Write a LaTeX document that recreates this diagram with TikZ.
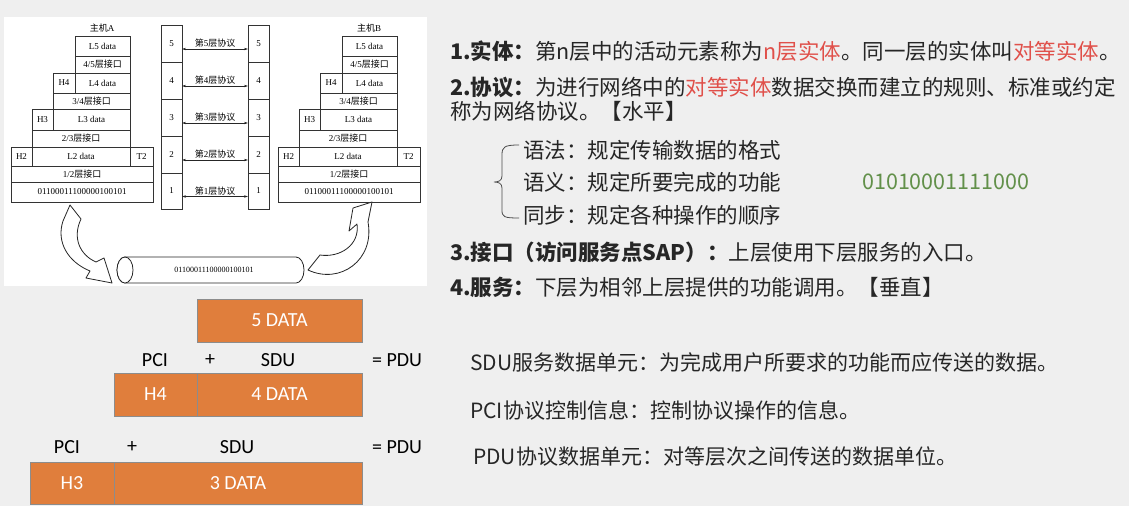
\documentclass[tikz,border=0pt]{standalone}
\usepackage{fontspec}
\setmainfont{Liberation Serif}
\newfontfamily\cjk{Noto Sans CJK SC}
\newfontfamily\calib{Carlito}
\usetikzlibrary{arrows.meta}
\definecolor{bg}{HTML}{EFEFEF}
\definecolor{orng}{HTML}{E07E3C}
\definecolor{obrd}{HTML}{8C8C8C}
\definecolor{redt}{HTML}{E0504A}
\definecolor{grnt}{HTML}{62904A}
\definecolor{txt}{HTML}{262626}
\tikzset{
 lay/.style={draw=black!80, line width=0.8pt, rectangle, inner sep=0pt, outer sep=0pt, font=\fontsize{9}{10}\selectfont},
 ob/.style={draw=obrd, line width=0.6pt, fill=orng, text=white, inner sep=0pt, outer sep=0pt, font=\calib\fontsize{20}{22}\selectfont},
 lbl/.style={inner sep=0pt, font=\calib\fontsize{20}{22}\selectfont, text=black},
 para/.style={anchor=west, inner sep=0pt, text=txt, font=\cjk\fontsize{21.5}{24}\selectfont},
 defn/.style={anchor=west, inner sep=0pt, text=txt, font=\cjk\fontsize{21}{23}\selectfont},
 hollow/.style={draw=black!85, line width=0.8pt, fill=white, line join=round},
 proto/.style={arrows={Stealth[length=4pt,width=2.4pt]-Stealth[length=4pt,width=2.4pt]}, line width=0.6pt, draw=black!85},
}
\newcommand\hoststack[3]{%
\begin{scope}[xshift=#1pt]
\node[inner sep=0pt, font=\fontsize{9}{10}\selectfont] (#2name) at (102,28) {{\cjk 主机}#3};
\node[lay, minimum width=55pt, minimum height=20pt] (#2L5) at (102.5,46) {L5 data};
\node[lay, minimum width=55pt, minimum height=17pt] (#2I45) at (102.5,64.5) {4/5{\cjk 层接口}};
\node[lay, minimum width=22pt, minimum height=20pt] (#2H4) at (64,83) {H4};
\node[lay, minimum width=55pt, minimum height=20pt] (#2L4) at (102.5,83) {L4 data};
\node[lay, minimum width=77pt, minimum height=16pt] (#2I34) at (91.5,101) {3/4{\cjk 层接口}};
\node[lay, minimum width=21pt, minimum height=21pt] (#2H3) at (42.5,119.5) {H3};
\node[lay, minimum width=77pt, minimum height=21pt] (#2L3) at (91.5,119.5) {L3 data};
\node[lay, minimum width=98pt, minimum height=17pt] (#2I23) at (81,138.5) {2/3{\cjk 层接口}};
\node[lay, minimum width=21pt, minimum height=19pt] (#2H2) at (21.5,156.5) {H2};
\node[lay, minimum width=98pt, minimum height=19pt] (#2L2) at (81,156.5) {L2 data};
\node[lay, minimum width=23pt, minimum height=19pt] (#2T2) at (141.5,156.5) {T2};
\node[lay, minimum width=142pt, minimum height=16pt] (#2I12) at (82,174) {1/2{\cjk 层接口}};
\node[lay, minimum width=142pt, minimum height=20pt] (#2bits) at (82,192) {01100011100000100101};
\end{scope}}
\begin{document}
\begin{tikzpicture}[x=1pt,y=-1pt]
\useasboundingbox (0,0) rectangle (1129,506);
\fill[bg] (0,0) rectangle (1129,506);
% white figure panel
\fill[white] (4,17) rectangle (427,286);
\hoststack{0}{A}{A}
\hoststack{267}{B}{B}
% peer protocol columns
\foreach \n/\yc/\h in {5/43.5/37,4/80.5/37,3/117.5/37,2/154.5/37,1/191/36} {
  \node[lay, minimum width=21pt, minimum height=\h pt] (ML\n) at (171.5,\yc) {\n};
  \node[lay, minimum width=21pt, minimum height=\h pt] (MR\n) at (258.5,\yc) {\n};
  \draw[proto] ([yshift=-5.5pt]ML\n.east) -- ([yshift=-5.5pt]MR\n.west)
     node[midway, above=1pt, inner sep=0pt, font=\fontsize{9}{10}\selectfont] {{\cjk 第}\n{\cjk 层协议}};
}
% cable
\draw[hollow] (125,257) -- (296,257) arc[start angle=-90, end angle=90, x radius=8, y radius=13]
   -- (125,283) arc[start angle=90, end angle=270, x radius=8, y radius=13] -- cycle;
\draw[hollow] (125,270) ellipse[x radius=8, y radius=13];
\node[inner sep=0pt, font=\fontsize{8}{9}\selectfont] (wire) at (214,270) {01100011100000100101};
% curved block arrows
\draw[hollow] (70,205) -- (81,219) .. controls (72,238) and (80,255) .. (96,262) -- (104,258)
   -- (112,283) -- (86,278) -- (90,271) .. controls (68,262) and (56,242) .. (63,221) -- cycle;
\draw[hollow] (372,202) -- (353,208) -- (349,231) -- (357,224) .. controls (360,245) and (340,258) .. (320,255)
   -- (308,270) .. controls (340,285) and (375,260) .. (368,222) -- cycle;
% orange PDU boxes
\node[ob, minimum width=165pt, minimum height=43pt] (d5) at (279.5,320.5) {5 DATA};
\node[ob, minimum width=83pt, minimum height=43pt] (h4) at (155.5,394.5) {H4};
\node[ob, minimum width=165pt, minimum height=43pt] (d4) at (279.5,394.5) {4 DATA};
\node[ob, minimum width=84pt, minimum height=42pt] (h3) at (72,483) {H3};
\node[ob, minimum width=248pt, minimum height=42pt] (d3) at (238,483) {3 DATA};
\node[lbl] (pci1) at (155,360) {PCI};
\node[lbl] (plus1) at (210,360) {+};
\node[lbl] (sdu1) at (278,360) {SDU};
\node[lbl] (pdu1) at (397,360) {= PDU};
\node[lbl] (pci2) at (67,447) {PCI};
\node[lbl] (plus2) at (132,447) {+};
\node[lbl] (sdu2) at (237,447) {SDU};
\node[lbl] (pdu2) at (397,447) {= PDU};
% text panel
\node[para] (t1) at (450,51) {\textbf{1.实体：}第n层中的活动元素称为\textcolor{redt}{n层实体}。同一层的实体叫\textcolor{redt}{对等实体}。};
\node[para] (t2) at (450,87) {\textbf{2.协议：}为进行网络中的\textcolor{redt}{对等实体}数据交换而建立的规则、标准或约定};
\node[para] (t3) at (450,111) {称为网络协议。【水平】};
\draw[black!70, line width=0.8pt] (519,145) .. controls (504,145) and (502,147) .. (502,155) -- (502,176)
   .. controls (502,181) and (498,182) .. (494,182) .. controls (498,182) and (502,183) .. (502,188)
   -- (502,210) .. controls (502,217) and (504,218) .. (519,218);
\node[para] (i1) at (523,150) {语法：规定传输数据的格式};
\node[para] (i2) at (523,182) {语义：规定所要完成的功能};
\node[para] (i3) at (523,215) {同步：规定各种操作的顺序};
\node[para, text=grnt] (bitsg) at (862,182) {01010001111000};
\node[para] (t4) at (450,252) {\textbf{3.接口（访问服务点SAP）：}上层使用下层服务的入口。};
\node[para] (t5) at (450,287) {\textbf{4.服务：}下层为相邻上层提供的功能调用。【垂直】};
\node[defn] (sdu) at (470,362) {SDU服务数据单元：为完成用户所要求的功能而应传送的数据。};
\node[defn] (pci) at (470,410) {PCI协议控制信息：控制协议操作的信息。};
\node[defn] (pdu) at (473,457) {PDU协议数据单元：对等层次之间传送的数据单位。};
\end{tikzpicture}
\end{document}
